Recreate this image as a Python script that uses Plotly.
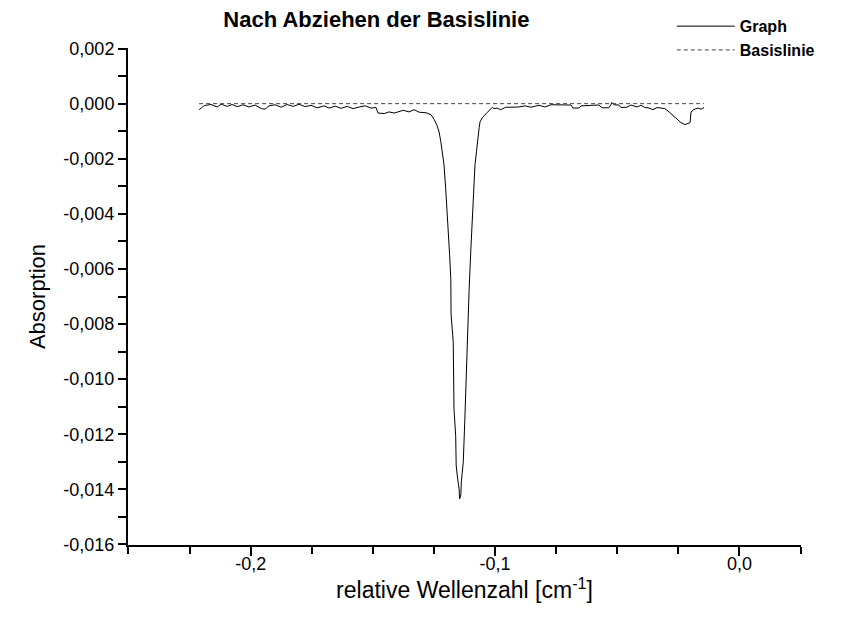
import plotly.graph_objects as go

# ---- data ----
graph_x = [
    -0.2211, -0.2190, -0.2162, -0.2137, -0.2121, -0.2096, -0.2076, -0.2055, -0.2031, -0.2007,
    -0.1982, -0.1957, -0.1941, -0.1925, -0.1900, -0.1875, -0.1851, -0.1826, -0.1802, -0.1777,
    -0.1753, -0.1728, -0.1699, -0.1679, -0.1654, -0.1630, -0.1605, -0.1581, -0.1556, -0.1532,
    -0.1507, -0.1487, -0.1479, -0.1454, -0.1434, -0.1413, -0.1393, -0.1376, -0.1352, -0.1331,
    -0.1311, -0.1282, -0.1262, -0.1249, -0.1237, -0.1229, -0.1222, -0.1216, -0.1209, -0.1202,
    -0.1199, -0.1191, -0.1186, -0.1181, -0.1180, -0.1171, -0.1168, -0.1161, -0.1159, -0.1154,
    -0.1147, -0.1145, -0.1140, -0.1138, -0.1130, -0.1124, -0.1120, -0.1113, -0.1106, -0.1099,
    -0.1094, -0.1090, -0.1086, -0.1082, -0.1076, -0.1071, -0.1065, -0.1061, -0.1052, -0.1033,
    -0.1022, -0.1011, -0.1004, -0.0992, -0.0977, -0.0956, -0.0935, -0.0902, -0.0877, -0.0853,
    -0.0820, -0.0796, -0.0771, -0.0738, -0.0689, -0.0681, -0.0656, -0.0648, -0.0616, -0.0575,
    -0.0562, -0.0534, -0.0526, -0.0522, -0.0513, -0.0493, -0.0485, -0.0460, -0.0444, -0.0419,
    -0.0403, -0.0387, -0.0370, -0.0354, -0.0337, -0.0321, -0.0305, -0.0288, -0.0272, -0.0256,
    -0.0239, -0.0223, -0.0207, -0.0202, -0.0198, -0.0186, -0.0170, -0.0157, -0.0145,
]
graph_y = [
    -0.00022, -0.00007, -0.00003, -0.00012, -0.00002, -0.00010, -0.00003, -0.00011, -0.00004, -0.00012,
    -0.00005, -0.00018, -0.00020, -0.00008, -0.00004, -0.00013, -0.00003, -0.00010, -0.00002, -0.00011,
    -0.00006, -0.00015, -0.00008, -0.00016, -0.00009, -0.00017, -0.00010, -0.00018, -0.00012, -0.00008,
    -0.00016, -0.00014, -0.00034, -0.00036, -0.00030, -0.00034, -0.00029, -0.00024, -0.00030, -0.00022,
    -0.00031, -0.00033, -0.00040, -0.00058, -0.00080, -0.00103, -0.00137, -0.00178, -0.00221, -0.00308,
    -0.00348, -0.00445, -0.00547, -0.00638, -0.00764, -0.00866, -0.01109, -0.01206, -0.01315, -0.01355,
    -0.01399, -0.01435, -0.01420, -0.01373, -0.01301, -0.01156, -0.01036, -0.00819, -0.00674, -0.00529,
    -0.00420, -0.00348, -0.00312, -0.00221, -0.00174, -0.00123, -0.00087, -0.00065, -0.00051, -0.00033,
    -0.00022, -0.00013, -0.00018, -0.00016, -0.00022, -0.00013, -0.00013, -0.00012, -0.00008, -0.00013,
    -0.00006, -0.00012, -0.00004, -0.00004, -0.00005, -0.00016, -0.00016, -0.00008, -0.00006, -0.00005,
    -0.00015, -0.00015, -0.00004, 0.00004, -0.00004, -0.00005, -0.00014, -0.00013, -0.00005, -0.00012,
    -0.00006, -0.00014, -0.00016, -0.00022, -0.00014, -0.00016, -0.00018, -0.00030, -0.00043, -0.00058,
    -0.00069, -0.00076, -0.00072, -0.00069, -0.00030, -0.00021, -0.00016, -0.00020, -0.00014,
]
baseline_x = [-0.2211, -0.0145]
baseline_y = [0.0, 0.0]

x_tick_vals = [-0.2, -0.1, 0.0]
x_tick_labels = ["-0,2", "-0,1", "0,0"]
x_minor_vals = [-0.25, -0.225, -0.175, -0.15, -0.125, -0.075, -0.05, -0.025, 0.025]
y_tick_vals = [0.002, 0.0, -0.002, -0.004, -0.006, -0.008, -0.010, -0.012, -0.014, -0.016]
y_tick_labels = ["0,002", "0,000", "-0,002", "-0,004", "-0,006", "-0,008",
                 "-0,010", "-0,012", "-0,014", "-0,016"]
y_minor_vals = [0.001, -0.001, -0.003, -0.005, -0.007, -0.009, -0.011, -0.013, -0.015]

FONT = "Liberation Sans, Arial, sans-serif"

fig = go.Figure()
fig.add_trace(go.Scatter(
    x=graph_x, y=graph_y, mode="lines", name="Graph",
    line=dict(color="black", width=1),
))
fig.add_trace(go.Scatter(
    x=baseline_x, y=baseline_y, mode="lines", name="Basislinie",
    line=dict(color="#444444", width=1, dash="4px,3px"),
))

fig.update_layout(
    width=843, height=639,
    margin=dict(l=120, r=50, t=40, b=102, autoexpand=False),
    paper_bgcolor="white", plot_bgcolor="white",
    font=dict(family=FONT, color="black"),
    title=dict(text="<b>Nach Abziehen der Basislinie</b>", x=0.437, xref="container",
               xanchor="center", y=0.983, yref="container", yanchor="middle",
               font=dict(size=22, family=FONT, color="black")),
    showlegend=True,
    legend=dict(x=0.808, y=1.078, xanchor="left", yanchor="top",
                font=dict(size=16, family=FONT, color="black", weight="bold"),
                bgcolor="rgba(0,0,0,0)", tracegroupgap=0, itemwidth=58,
                traceorder="normal"),
)
fig.update_xaxes(
    range=[-0.2502, 0.0252], showgrid=False, zeroline=False, automargin=False,
    showline=True, linecolor="black", linewidth=2,
    tickmode="array", tickvals=x_tick_vals, ticktext=x_tick_labels,
    ticks="outside", ticklen=9, tickwidth=2, tickcolor="black",
    ticklabelstandoff=-8,
    tickfont=dict(size=18, family=FONT, color="black"),
    minor=dict(tickmode="array", tickvals=x_minor_vals, ticks="outside",
               ticklen=7, tickwidth=2, tickcolor="black", showgrid=False),
    title=dict(text="relative Wellenzahl [cm<sup>-1</sup>]", standoff=8,
               font=dict(size=23, family=FONT, color="black")),
)
fig.update_yaxes(
    range=[-0.01602, 0.00202], showgrid=False, zeroline=False, automargin=False,
    showline=True, linecolor="black", linewidth=2,
    tickmode="array", tickvals=y_tick_vals, ticktext=y_tick_labels,
    ticks="outside", ticklen=8, tickwidth=2, tickcolor="black",
    tickfont=dict(size=18, family=FONT, color="black"),
    minor=dict(tickmode="array", tickvals=y_minor_vals, ticks="outside",
               ticklen=8, tickwidth=2, tickcolor="black", showgrid=False),
    title=dict(text="Absorption", standoff=12,
               font=dict(size=22, family=FONT, color="black")),
)

fig.write_html("out.html")
